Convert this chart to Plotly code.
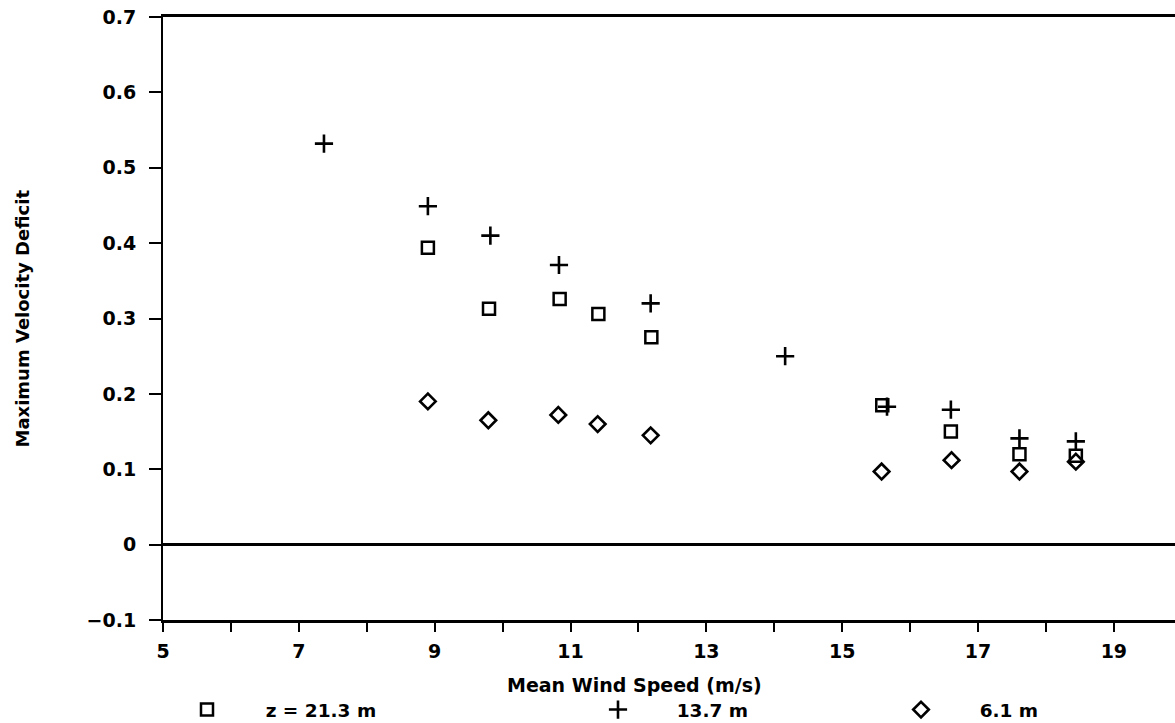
import plotly.graph_objects as go

# Mean wind speed (m/s) and maximum velocity deficit at three heights
speed_21 = [8.90, 9.80, 10.84, 11.41, 12.19, 15.59, 16.60, 17.61, 18.44]
deficit_21 = [0.394, 0.313, 0.326, 0.306, 0.275, 0.185, 0.150, 0.120, 0.118]

speed_13 = [7.37, 8.90, 9.82, 10.83, 12.18, 14.16, 15.66, 16.60, 17.61, 18.44]
deficit_13 = [0.532, 0.449, 0.410, 0.371, 0.320, 0.250, 0.183, 0.179, 0.141, 0.137]

speed_6 = [8.90, 9.79, 10.82, 11.40, 12.18, 15.58, 16.61, 17.61, 18.44]
deficit_6 = [0.190, 0.165, 0.172, 0.160, 0.145, 0.097, 0.112, 0.097, 0.110]

x_tick_vals = list(range(5, 20))
x_tick_text = ["5", "", "7", "", "9", "", "11", "", "13", "", "15", "", "17", "", "19"]
y_tick_vals = [-0.1, 0, 0.1, 0.2, 0.3, 0.4, 0.5, 0.6, 0.7]
y_tick_text = ["\u22120.1", "0", "0.1", "0.2", "0.3", "0.4", "0.5", "0.6", "0.7"]

FONT = "DejaVu Sans"
pad = "\u00a0" * 6

fig = go.Figure()
fig.add_trace(go.Scatter(
    x=speed_21, y=deficit_21, mode="markers", name=pad + "z = 21.3 m", legend="legend",
    marker=dict(symbol="square-open", size=12, color="black", line=dict(width=2.5, color="black")),
))
fig.add_trace(go.Scatter(
    x=speed_13, y=deficit_13, mode="markers", name=pad + "13.7 m", legend="legend2",
    marker=dict(symbol="cross-thin", size=13, color="black", line=dict(width=2.6, color="black")),
))
fig.add_trace(go.Scatter(
    x=speed_6, y=deficit_6, mode="markers", name=pad + "6.1 m", legend="legend3",
    marker=dict(symbol="diamond-open", size=12, color="black", line=dict(width=2.6, color="black")),
))

# legends sit in the bottom strip of the figure, referenced to the container
leg_common = dict(orientation="h", yref="container", xref="container",
                  yanchor="middle", y=1 - 710 / 723, xanchor="left",
                  bgcolor="rgba(0,0,0,0)", borderwidth=0,
                  font=dict(family=FONT, size=18.5, color="black", weight="bold"))

fig.update_layout(
    width=1175, height=723,
    margin=dict(l=163, r=0, t=17, b=103, autoexpand=False),
    paper_bgcolor="white", plot_bgcolor="white",
    font=dict(family=FONT, size=18, color="black", weight="bold"),
    showlegend=True,
    legend=dict(x=187 / 1175, **leg_common),
    legend2=dict(x=598 / 1175, **leg_common),
    legend3=dict(x=901 / 1175, **leg_common),
    xaxis=dict(
        range=[5, 19.9], tickvals=x_tick_vals, ticktext=x_tick_text,
        showline=True, linecolor="black", linewidth=3, mirror=True,
        ticks="outside", ticklen=9, tickwidth=2, tickcolor="black",
        ticklabelstandoff=3,
        showgrid=False, zeroline=False,
        tickfont=dict(family=FONT, size=19, color="black", weight="bold"),
    ),
    yaxis=dict(
        range=[-0.1, 0.7], tickvals=y_tick_vals, ticktext=y_tick_text,
        showline=True, linecolor="black", linewidth=2, mirror=False,
        ticks="outside", ticklen=12, tickwidth=2, tickcolor="black",
        ticklabelstandoff=9,
        showgrid=False, zeroline=True, zerolinecolor="black", zerolinewidth=3,
        tickfont=dict(family=FONT, size=19, color="black", weight="bold"),
    ),
    annotations=[
        dict(text="Maximum Velocity Deficit", xref="paper", yref="paper",
             x=(22 - 163) / 1012, y=0.5, xanchor="center", yanchor="middle",
             textangle=-90, showarrow=False,
             font=dict(family=FONT, size=18, color="black", weight="bold")),
        dict(text="Mean Wind Speed (m/s)", xref="paper", yref="paper",
             x=(634 - 163) / 1012, y=-(685 - 620) / 603, xanchor="center", yanchor="middle",
             showarrow=False,
             font=dict(family=FONT, size=19, color="black", weight="bold")),
    ],
)

fig.write_html("out.html")
